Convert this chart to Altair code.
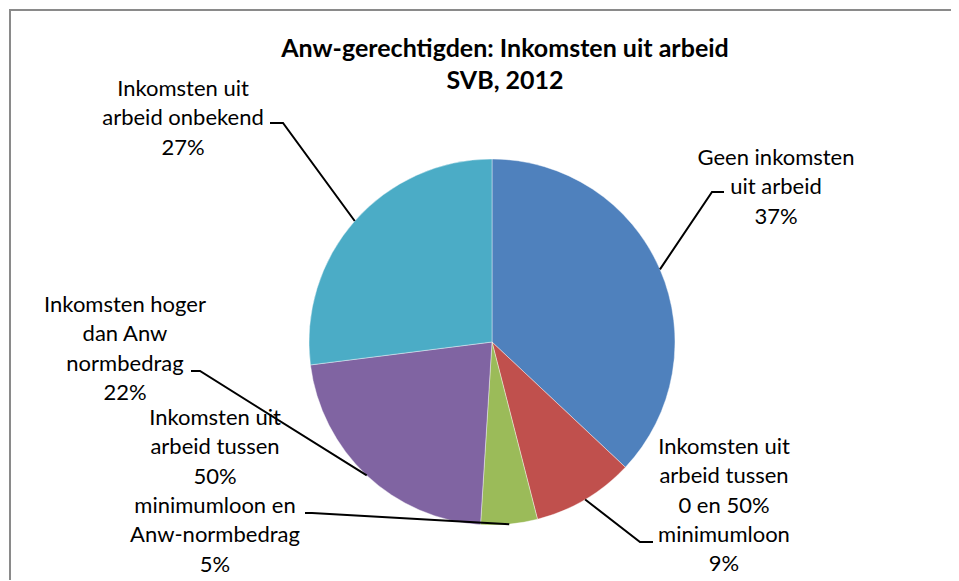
import math
import altair as alt
import pandas as pd

# ---------------- data ----------------
categories = [
    "Geen inkomsten uit arbeid",
    "Inkomsten uit arbeid tussen 0 en 50% minimumloon",
    "Inkomsten uit arbeid tussen 50% minimumloon en Anw-normbedrag",
    "Inkomsten hoger dan Anw normbedrag",
    "Inkomsten uit arbeid onbekend",
]
values = [37, 9, 5, 22, 27]
label_lines = [
    ["Geen inkomsten", "uit arbeid"],
    ["Inkomsten uit", "arbeid tussen", "0 en 50%", "minimumloon"],
    ["Inkomsten uit", "arbeid tussen", "50%", "minimumloon en", "Anw-normbedrag"],
    ["Inkomsten hoger", "dan Anw", "normbedrag"],
    ["Inkomsten uit", "arbeid onbekend"],
]
title_lines = ["Anw-gerechtigden: Inkomsten uit arbeid", "SVB, 2012"]

# ---------------- styles / layout ----------------
colors = ["#4F81BD", "#C0504D", "#9BBB59", "#8064A2", "#4BACC6"]
FONT = "Lato"
W, H, PAD_TOP = 943, 482, 90
ORIGIN_X, ORIGIN_Y = 8, 8 + PAD_TOP          # page position of plot origin
PIE_CX, PIE_CY, PIE_R = 492, 342, 183         # page px
TITLE_CX = 505                                # page px
LINE_H = 29.3
# page position of the centre of each label's first line
label_first = [(776, 158), (724, 447), (215, 418), (125, 305), (183, 89)]
leader_tails = [
    [(712, 192), (724, 192)],
    [(640, 542), (653, 542)],
    [(312, 513), (305, 513)],
    [(200, 371), (191, 371)],
    [(283, 123), (270, 123)],
]

cx = PIE_CX - ORIGIN_X
cy = PIE_CY - ORIGIN_Y


def to_units(px, py):
    return (px - PIE_CX) / PIE_R, (PIE_CY - py) / PIE_R


xscale = alt.Scale(domain=[(0 - cx) / PIE_R, (W - cx) / PIE_R], nice=False, zero=False)
yscale = alt.Scale(domain=[(cy - H) / PIE_R, cy / PIE_R], nice=False, zero=False)

# ---------------- tables ----------------
total = sum(values)
pie_df = pd.DataFrame({"cat": categories, "value": values, "order": range(len(values))})

lab_rows, line_rows = [], []
cum = 0
for i, (cat, val) in enumerate(zip(categories, values)):
    mid = (cum + val / 2) / total * 2 * math.pi
    cum += val
    lx, ly = to_units(*label_first[i])
    lab_rows.append({"cat": cat, "u": lx, "v": ly,
                     "text": "\n".join(label_lines[i] + [f"{val}%"])})
    pts = [(math.sin(mid), math.cos(mid))] + [to_units(*p) for p in leader_tails[i]]
    for j, (u, v) in enumerate(pts):
        line_rows.append({"cat": cat, "seq": j, "u": u, "v": v})
lab_df = pd.DataFrame(lab_rows)
line_df = pd.DataFrame(line_rows)

color = alt.Color("cat:N", scale=alt.Scale(domain=categories, range=colors), legend=None)

pie = alt.Chart(pie_df).mark_arc(outerRadius=PIE_R, stroke="white", strokeWidth=0.4).encode(
    theta=alt.Theta("value:Q", stack=True, scale=alt.Scale(domain=[0, total])),
    order=alt.Order("order:Q"),
    color=color,
    x=alt.XDatum(0, type="quantitative", scale=xscale, axis=None),
    y=alt.YDatum(0, type="quantitative", scale=yscale, axis=None),
)

leaders = alt.Chart(line_df).mark_line(color="black", strokeWidth=2).encode(
    x=alt.X("u:Q", scale=xscale, axis=None),
    y=alt.Y("v:Q", scale=yscale, axis=None),
    detail="cat:N",
    order="seq:Q",
)

labels = alt.Chart(lab_df).mark_text(
    font=FONT, fontSize=22, lineBreak="\n", lineHeight=LINE_H,
    align="center", baseline="middle", color="black",
).encode(
    x=alt.X("u:Q", scale=xscale, axis=None),
    y=alt.Y("v:Q", scale=yscale, axis=None),
    text="text:N",
)

frame = alt.Chart(pie_df.head(1)).mark_rect(
    fillOpacity=0, stroke="#8a8a8a", strokeWidth=2
).encode(
    x=alt.value(2), x2=alt.value(W + 60),
    y=alt.value(-PAD_TOP + 2), y2=alt.value(H + 60),
)

chart = alt.layer(frame, pie, leaders, labels).properties(
    width=W, height=H,
    padding={"left": 0, "top": PAD_TOP, "right": 0, "bottom": 0},
    autosize=alt.AutoSizeParams(type="none"),
    background="white",
    title=alt.TitleParams(
        text=title_lines, font=FONT, fontSize=25, fontWeight="bold",
        lineHeight=32, anchor="middle", dx=TITLE_CX - (ORIGIN_X + W / 2), offset=-85,
        frame="group", color="black",
    ),
).configure_view(strokeWidth=0)

chart.save("out.html", embed_options={"renderer": "svg", "actions": False})
